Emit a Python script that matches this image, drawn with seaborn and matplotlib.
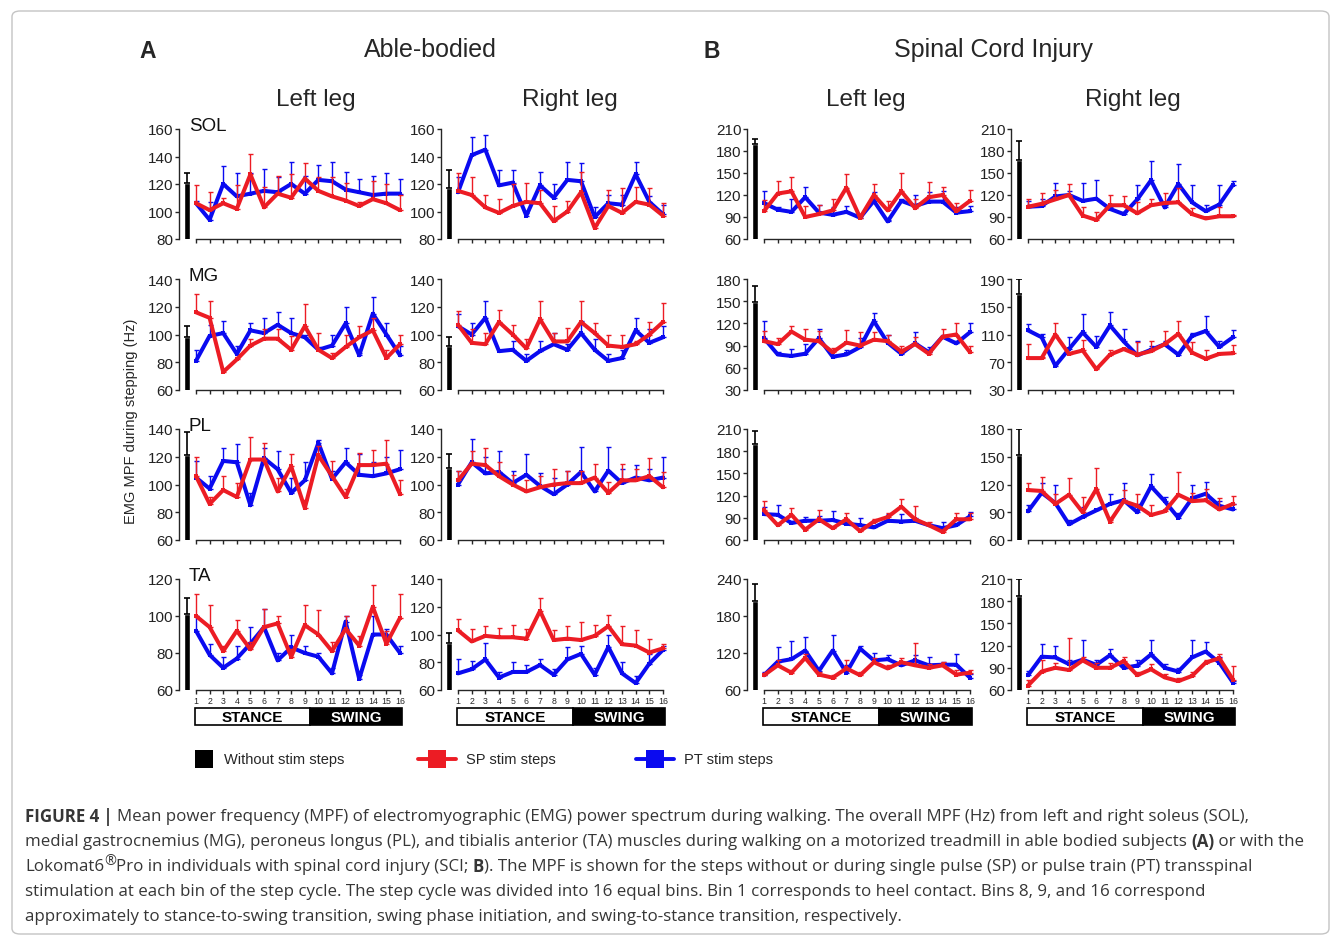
import numpy as np
import matplotlib
matplotlib.use('Agg')
import matplotlib.pyplot as plt
from matplotlib.patches import Rectangle, FancyBboxPatch
from matplotlib.lines import Line2D
import seaborn as sns

sns.set_style('ticks')
plt.rcParams['font.family'] = ['Liberation Sans', 'DejaVu Sans']

RED = '#ec1c24'
BLUE = '#0a0af0'

bins = np.arange(1, 17)

# ---- data (MPF, Hz) : mean and top of the error bar ----
# SOL
sol_ab_l_sp = [106, 101, 106, 102, 127, 103, 113, 110, 124, 115, 111, 108, 104, 109, 106, 101]
sol_ab_l_sp_hi = [119, 114, 110, 119, 142, 118, 126, 127, 135, 125, 125, 121, 107, 122, 120, 112]
sol_ab_l_pt = [106, 94, 120, 111, 113, 115, 114, 120, 113, 123, 122, 116, 114, 112, 113, 113]
sol_ab_l_pt_hi = [108, 107, 133, 128, 128, 131, 125, 136, 126, 134, 136, 129, 124, 126, 128, 124]
sol_ab_l_ns = [121, 128]

sol_ab_r_sp = [115, 112, 103, 99, 104, 107, 106, 93, 100, 114, 88, 104, 99, 107, 105, 97]
sol_ab_r_sp_hi = [128, 125, 112, 109, 120, 121, 116, 104, 108, 129, 90, 116, 117, 118, 117, 106]
sol_ab_r_pt = [114, 141, 145, 119, 121, 97, 119, 110, 123, 122, 96, 106, 105, 127, 107, 98]
sol_ab_r_pt_hi = [125, 154, 156, 130, 130, 99, 129, 120, 136, 135, 103, 112, 112, 136, 111, 105]
sol_ab_r_ns = [117, 130]

sol_sci_l_sp = [98, 122, 125, 90, 94, 99, 130, 89, 120, 99, 125, 102, 117, 120, 98, 112]
sol_sci_l_sp_hi = [113, 139, 144, 105, 106, 115, 149, 92, 135, 112, 150, 114, 138, 131, 109, 127]
sol_sci_l_pt = [109, 100, 97, 117, 96, 93, 97, 89, 112, 84, 112, 105, 111, 111, 96, 98]
sol_sci_l_pt_hi = [126, 103, 114, 131, 107, 104, 105, 91, 124, 86, 115, 120, 124, 126, 104, 105]
sol_sci_l_ns = [189, 196]

sol_sci_r_sp = [104, 108, 114, 120, 92, 86, 106, 106, 95, 106, 109, 110, 94, 88, 91, 91]
sol_sci_r_sp_hi = [114, 123, 127, 135, 104, 97, 120, 118, 111, 115, 123, 130, 102, 90, 103, 93]
sol_sci_r_pt = [104, 105, 118, 120, 112, 115, 101, 94, 114, 140, 103, 135, 110, 98, 107, 134]
sol_sci_r_pt_hi = [112, 115, 137, 126, 137, 140, 104, 97, 133, 166, 106, 162, 134, 107, 134, 139]
sol_sci_r_ns = [168, 194]

# MG
mg_ab_l_sp = [116, 112, 73, 82, 92, 97, 97, 89, 106, 89, 83, 91, 98, 103, 83, 93]
mg_ab_l_sp_hi = [129, 124, 75, 84, 97, 104, 104, 99, 122, 101, 87, 100, 106, 112, 89, 100]
mg_ab_l_pt = [81, 99, 101, 86, 103, 101, 107, 101, 98, 89, 92, 108, 85, 115, 100, 85]
mg_ab_l_pt_hi = [89, 107, 110, 92, 108, 112, 116, 112, 100, 91, 100, 120, 87, 127, 108, 92]
mg_ab_l_ns = [98, 106]

mg_ab_r_sp = [107, 94, 93, 109, 100, 90, 111, 95, 95, 109, 101, 92, 91, 93, 100, 109]
mg_ab_r_sp_hi = [117, 104, 101, 118, 107, 97, 124, 101, 105, 124, 108, 100, 100, 95, 109, 123]
mg_ab_r_pt = [106, 100, 112, 88, 89, 81, 88, 93, 89, 101, 89, 81, 83, 103, 94, 98]
mg_ab_r_pt_hi = [115, 108, 124, 89, 95, 86, 95, 101, 93, 110, 97, 86, 89, 112, 104, 106]
mg_ab_r_ns = [92, 98]

mg_sci_l_sp = [96, 92, 109, 98, 96, 81, 94, 90, 98, 96, 82, 92, 79, 102, 105, 81]
mg_sci_l_sp_hi = [110, 100, 116, 113, 110, 87, 111, 108, 108, 105, 89, 102, 82, 113, 121, 90]
mg_sci_l_pt = [100, 78, 76, 79, 100, 75, 78, 88, 123, 94, 79, 93, 81, 102, 93, 108]
mg_sci_l_pt_hi = [123, 82, 85, 92, 113, 84, 84, 100, 134, 104, 84, 108, 88, 105, 96, 120]
mg_sci_l_ns = [149, 170]

mg_sci_r_sp = [76, 76, 110, 82, 87, 60, 81, 89, 81, 86, 96, 111, 84, 75, 82, 83]
mg_sci_r_sp_hi = [96, 78, 126, 84, 102, 62, 88, 91, 99, 101, 115, 129, 99, 87, 84, 95]
mg_sci_r_pt = [116, 106, 65, 89, 113, 92, 123, 100, 80, 88, 96, 81, 108, 115, 92, 106]
mg_sci_r_pt_hi = [125, 111, 67, 107, 139, 108, 142, 118, 100, 94, 100, 83, 112, 136, 100, 116]
mg_sci_r_ns = [168, 190]

# PL
pl_ab_l_sp = [106, 86, 96, 91, 118, 118, 95, 113, 83, 121, 106, 91, 114, 114, 115, 93]
pl_ab_l_sp_hi = [120, 91, 106, 101, 134, 130, 105, 122, 89, 128, 117, 97, 123, 125, 132, 103]
pl_ab_l_pt = [105, 97, 117, 116, 85, 119, 111, 94, 103, 130, 104, 116, 107, 106, 108, 111]
pl_ab_l_pt_hi = [117, 106, 126, 129, 94, 126, 124, 105, 116, 132, 110, 126, 122, 116, 120, 125]
pl_ab_l_ns = [121, 138]

pl_ab_r_sp = [103, 115, 114, 106, 100, 95, 98, 100, 101, 101, 105, 94, 103, 103, 106, 98]
pl_ab_r_sp_hi = [110, 124, 126, 116, 107, 103, 106, 111, 110, 110, 115, 102, 115, 111, 119, 109]
pl_ab_r_pt = [100, 116, 108, 109, 101, 107, 99, 93, 100, 109, 95, 110, 101, 105, 103, 105]
pl_ab_r_pt_hi = [110, 133, 120, 124, 110, 122, 108, 105, 110, 127, 97, 127, 111, 114, 111, 120]
pl_ab_r_ns = [112, 122]

pl_sci_l_sp = [100, 80, 94, 74, 88, 76, 88, 72, 85, 91, 105, 88, 80, 71, 88, 88]
pl_sci_l_sp_hi = [113, 83, 103, 76, 101, 78, 97, 74, 89, 97, 116, 106, 85, 73, 96, 96]
pl_sci_l_pt = [95, 94, 83, 86, 86, 87, 82, 80, 77, 86, 85, 86, 80, 76, 80, 92]
pl_sci_l_pt_hi = [104, 107, 86, 91, 93, 99, 85, 90, 79, 95, 95, 90, 82, 85, 82, 98]
pl_sci_l_ns = [190, 207]

pl_sci_r_sp = [114, 113, 99, 109, 90, 115, 80, 102, 97, 87, 91, 109, 102, 103, 93, 99]
pl_sci_r_sp_hi = [122, 128, 110, 127, 107, 138, 82, 114, 110, 98, 93, 134, 111, 115, 105, 108]
pl_sci_r_pt = [91, 111, 100, 77, 85, 92, 99, 103, 90, 118, 102, 84, 105, 110, 97, 93]
pl_sci_r_pt_hi = [98, 122, 119, 82, 96, 94, 110, 122, 99, 131, 106, 89, 119, 123, 102, 99]
pl_sci_r_ns = [152, 180]

# TA
ta_ab_l_sp = [100, 94, 81, 92, 82, 94, 96, 78, 95, 90, 81, 93, 84, 105, 85, 99]
ta_ab_l_sp_hi = [112, 106, 84, 98, 86, 104, 100, 82, 106, 103, 86, 100, 89, 117, 92, 112]
ta_ab_l_pt = [92, 79, 72, 77, 85, 94, 76, 83, 80, 78, 69, 97, 66, 90, 90, 80]
ta_ab_l_pt_hi = [100, 85, 78, 84, 94, 104, 80, 90, 84, 80, 72, 100, 68, 100, 93, 84]
ta_ab_l_ns = [101, 110]

ta_ab_r_sp = [103, 95, 99, 98, 98, 97, 117, 96, 97, 96, 99, 106, 93, 92, 87, 90]
ta_ab_r_sp_hi = [111, 104, 106, 105, 107, 104, 126, 103, 106, 109, 107, 114, 106, 103, 97, 93]
ta_ab_r_pt = [72, 75, 82, 69, 73, 73, 78, 71, 82, 86, 71, 91, 72, 65, 79, 89]
ta_ab_r_pt_hi = [82, 81, 94, 73, 80, 78, 82, 75, 91, 92, 76, 100, 80, 70, 86, 92]
ta_ab_r_ns = [94, 101]

ta_sci_l_sp = [84, 100, 88, 112, 85, 80, 95, 84, 105, 95, 105, 100, 96, 100, 85, 88]
ta_sci_l_sp_hi = [88, 108, 92, 118, 90, 84, 108, 90, 112, 100, 112, 136, 102, 106, 92, 92]
ta_sci_l_pt = [84, 106, 110, 124, 91, 124, 88, 127, 108, 110, 100, 108, 100, 101, 101, 80]
ta_sci_l_pt_hi = [90, 130, 140, 146, 96, 150, 100, 132, 120, 116, 104, 116, 114, 106, 118, 86]
ta_sci_l_ns = [205, 232]

ta_sci_r_sp = [66, 85, 90, 87, 100, 90, 90, 99, 80, 88, 77, 72, 79, 97, 103, 74]
ta_sci_r_sp_hi = [74, 100, 96, 130, 104, 96, 96, 105, 84, 95, 82, 76, 84, 100, 108, 92]
ta_sci_r_pt = [80, 105, 104, 95, 101, 94, 107, 90, 93, 108, 90, 85, 104, 112, 97, 70]
ta_sci_r_pt_hi = [86, 122, 120, 100, 128, 100, 115, 95, 100, 128, 95, 90, 128, 125, 104, 72]
ta_sci_r_ns = [187, 210]

# y ticks per row (AB left, AB right, SCI left, SCI right)
yticks = [
    [np.arange(80, 161, 20), np.arange(80, 161, 20), np.arange(60, 211, 30), np.arange(60, 211, 30)],
    [np.arange(60, 141, 20), np.arange(60, 141, 20), np.arange(30, 181, 30), np.arange(30, 191, 40)],
    [np.arange(60, 141, 20), np.arange(60, 141, 20), np.arange(60, 211, 30), np.arange(60, 181, 30)],
    [np.arange(60, 121, 20), np.arange(60, 141, 20), np.arange(60, 241, 60), np.arange(60, 211, 30)],
]
muscles = ['SOL', 'MG', 'PL', 'TA']

panels = [
    [(sol_ab_l_sp, sol_ab_l_sp_hi, sol_ab_l_pt, sol_ab_l_pt_hi, sol_ab_l_ns),
     (sol_ab_r_sp, sol_ab_r_sp_hi, sol_ab_r_pt, sol_ab_r_pt_hi, sol_ab_r_ns),
     (sol_sci_l_sp, sol_sci_l_sp_hi, sol_sci_l_pt, sol_sci_l_pt_hi, sol_sci_l_ns),
     (sol_sci_r_sp, sol_sci_r_sp_hi, sol_sci_r_pt, sol_sci_r_pt_hi, sol_sci_r_ns)],
    [(mg_ab_l_sp, mg_ab_l_sp_hi, mg_ab_l_pt, mg_ab_l_pt_hi, mg_ab_l_ns),
     (mg_ab_r_sp, mg_ab_r_sp_hi, mg_ab_r_pt, mg_ab_r_pt_hi, mg_ab_r_ns),
     (mg_sci_l_sp, mg_sci_l_sp_hi, mg_sci_l_pt, mg_sci_l_pt_hi, mg_sci_l_ns),
     (mg_sci_r_sp, mg_sci_r_sp_hi, mg_sci_r_pt, mg_sci_r_pt_hi, mg_sci_r_ns)],
    [(pl_ab_l_sp, pl_ab_l_sp_hi, pl_ab_l_pt, pl_ab_l_pt_hi, pl_ab_l_ns),
     (pl_ab_r_sp, pl_ab_r_sp_hi, pl_ab_r_pt, pl_ab_r_pt_hi, pl_ab_r_ns),
     (pl_sci_l_sp, pl_sci_l_sp_hi, pl_sci_l_pt, pl_sci_l_pt_hi, pl_sci_l_ns),
     (pl_sci_r_sp, pl_sci_r_sp_hi, pl_sci_r_pt, pl_sci_r_pt_hi, pl_sci_r_ns)],
    [(ta_ab_l_sp, ta_ab_l_sp_hi, ta_ab_l_pt, ta_ab_l_pt_hi, ta_ab_l_ns),
     (ta_ab_r_sp, ta_ab_r_sp_hi, ta_ab_r_pt, ta_ab_r_pt_hi, ta_ab_r_ns),
     (ta_sci_l_sp, ta_sci_l_sp_hi, ta_sci_l_pt, ta_sci_l_pt_hi, ta_sci_l_ns),
     (ta_sci_r_sp, ta_sci_r_sp_hi, ta_sci_r_pt, ta_sci_r_pt_hi, ta_sci_r_ns)],
]

W, H = 1341, 937
fig = plt.figure(figsize=(W / 100, H / 100), dpi=100)

def ftext(x, y, s, **kw):
    return fig.text(x / W, 1 - y / H, s, **kw)

# pixel layout
b1_px = [196, 458, 764, 1028]
b16_px = [400, 663, 970, 1233]
top_px = [130, 280, 430, 580]
bot_px = [240, 391, 541, 691]
XLO, XHI = -0.25, 16.3

for r in range(4):
    for c in range(4):
        s = (b16_px[c] - b1_px[c]) / 15
        left = b1_px[c] + (XLO - 1) * s
        right = b1_px[c] + (XHI - 1) * s
        ax = fig.add_axes([left / W, 1 - bot_px[r] / H, (right - left) / W, (bot_px[r] - top_px[r]) / H])
        sp, sp_hi, pt, pt_hi, ns = panels[r][c]

        # without stim: black bar
        ax.bar(0.33, ns[0], width=0.4, bottom=0, color='black', zorder=3)
        ax.errorbar(0.33, ns[0], yerr=[[0], [ns[1] - ns[0]]], fmt='none', ecolor='black',
                    elinewidth=1.2, capsize=2, capthick=1.2, zorder=3)

        for vals, hi, col, z in [(pt, pt_hi, BLUE, 4), (sp, sp_hi, RED, 6)]:
            vals = np.array(vals)
            err = np.array(hi) - vals
            ax.errorbar(bins, vals, yerr=[np.zeros(16), err], fmt='none', ecolor=col,
                        elinewidth=1, capsize=1.8, capthick=1, zorder=z - 1)
            sns.lineplot(x=bins, y=vals, color=col, lw=2.9, marker='s', markersize=3.5,
                         markeredgewidth=0, ax=ax, zorder=z)

        yt = yticks[r][c]
        ax.set_ylim(yt[0], yt[-1])
        ax.set_xlim(XLO, XHI)
        ax.set_yticks(yt)
        ax.set_xticks(bins)
        ax.set_xlabel('')
        ax.set_ylabel('')
        sns.despine(ax=ax)
        ax.spines['bottom'].set_bounds(1, 16)
        ax.spines['left'].set_linewidth(1)
        ax.spines['bottom'].set_linewidth(1)
        ax.tick_params(axis='y', length=3, width=1, pad=1, labelsize=11, labelcolor='#222222')
        ax.tick_params(axis='x', length=3, width=1, pad=1)
        ax.set_facecolor('none')
        if r < 3:
            ax.set_xticklabels([])
        else:
            ax.set_xticklabels([str(b) for b in bins], fontsize=6.3)
            tr = ax.get_xaxis_transform()
            ax.add_patch(Rectangle((0.95, -0.315), 9.4 - 0.95, 0.153, transform=tr,
                                   facecolor='white', edgecolor='black', lw=1.2, clip_on=False))
            ax.add_patch(Rectangle((9.4, -0.315), 16.15 - 9.4, 0.153, transform=tr,
                                   facecolor='black', edgecolor='black', lw=1.2, clip_on=False))
            ax.text((0.95 + 9.4) / 2, -0.24, 'STANCE', transform=tr, ha='center', va='center',
                    fontsize=11, fontweight='bold', color='black')
            ax.text((9.4 + 16.15) / 2, -0.24, 'SWING', transform=tr, ha='center', va='center',
                    fontsize=11, fontweight='bold', color='white')
        if c == 0:
            ax.text(0.043, 1.03, muscles[r], transform=ax.transAxes, ha='left', va='center',
                    fontsize=13.5, color='#111111')

# headers
ftext(148, 51, 'A', fontsize=16.5, fontweight='bold', ha='center', va='center')
ftext(430, 50, 'Able-bodied', fontsize=18, ha='center', va='center')
ftext(712, 51, 'B', fontsize=16.5, fontweight='bold', ha='center', va='center')
ftext(993, 50, 'Spinal Cord Injury', fontsize=18, ha='center', va='center')
for x, s in [(316, 'Left leg'), (570, 'Right leg'), (866, 'Left leg'), (1133, 'Right leg')]:
    ftext(x, 100, s, fontsize=17.5, ha='center', va='center')
ftext(131, 421, 'EMG MPF during stepping (Hz)', fontsize=10.5, rotation=90, ha='center', va='center')

# legend
fig.add_artist(Rectangle((195 / W, 1 - 769 / H), 18 / W, 18 / H, transform=fig.transFigure,
                         facecolor='black', edgecolor='none'))
ftext(224, 760, 'Without stim steps', fontsize=10.5, ha='left', va='center')
for x0, x1, col, lab in [(418, 456, RED, 'SP stim steps'), (636, 674, BLUE, 'PT stim steps')]:
    fig.add_artist(Line2D([x0 / W, x1 / W], [1 - 760 / H] * 2, transform=fig.transFigure,
                          color=col, lw=2.8))
    xm = (x0 + x1) / 2
    fig.add_artist(Rectangle(((xm - 9) / W, 1 - 769 / H), 18 / W, 18 / H, transform=fig.transFigure,
                             facecolor=col, edgecolor='none'))
    ftext(x1 + 10, 760, lab, fontsize=10.5, ha='left', va='center')

# caption
cap_font = ['Open Sans', 'DejaVu Sans']
renderer = fig.canvas.get_renderer()

def draw_segments(x, y, segs, size=12.2):
    for seg in segs:
        s, weight = seg[0], seg[1]
        dy, sc = (seg[2], seg[3]) if len(seg) > 2 else (0, 1.0)
        t = ftext(x, y - dy, s, fontsize=size * sc, fontweight=weight, family=cap_font,
                  color='#363636', ha='left', va='center')
        x += t.get_window_extent(renderer=renderer).width

caption = [
    [('FIGURE 4', 'bold'), (' | ', 'bold'), ('Mean power frequency (MPF) of electromyographic (EMG) power spectrum during walking. The overall MPF (Hz) from left and right soleus (SOL),', 'normal')],
    [('medial gastrocnemius (MG), peroneus longus (PL), and tibialis anterior (TA) muscles during walking on a motorized treadmill in able bodied subjects ', 'normal'), ('(A)', 'bold'), (' or with the', 'normal')],
    [('Lokomat6', 'normal'), ('\u00ae', 'normal', 5, 0.85), ('Pro in individuals with spinal cord injury (SCI; ', 'normal'), ('B', 'bold'), ('). The MPF is shown for the steps without or during single pulse (SP) or pulse train (PT) transspinal', 'normal')],
    [('stimulation at each bin of the step cycle. The step cycle was divided into 16 equal bins. Bin 1 corresponds to heel contact. Bins 8, 9, and 16 correspond', 'normal')],
    [('approximately to stance-to-swing transition, swing phase initiation, and swing-to-stance transition, respectively.', 'normal')],
]
for i, segs in enumerate(caption):
    draw_segments(25, 817 + i * 25, segs)

# frame
fig.add_artist(FancyBboxPatch((12 / W, 2 / H), (1329 - 12) / W, (925 - 2) / H,
                              boxstyle='round,pad=0,rounding_size=0.006', transform=fig.transFigure,
                              fill=False, edgecolor='#c4c4c4', lw=1))

fig.savefig('out.png', dpi=100)
